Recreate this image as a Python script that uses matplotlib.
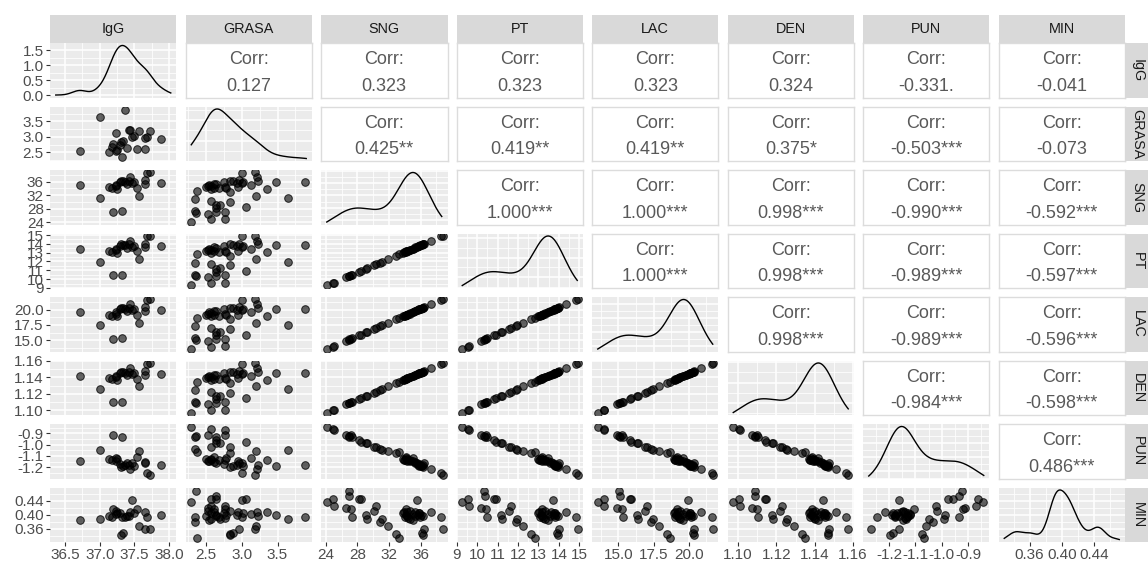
import numpy as np
import matplotlib
matplotlib.use('Agg')
import matplotlib.pyplot as plt
from matplotlib.ticker import MaxNLocator

plt.rcParams['font.family'] = ['Liberation Sans', 'DejaVu Sans']

nan = np.nan

# ---------------------------------------------------------------
# data
# ---------------------------------------------------------------
variables = ['IgG', 'GRASA', 'SNG', 'PT', 'LAC', 'DEN', 'PUN', 'MIN']

IgG = [nan, nan, nan, nan, nan, nan, 37.19, 37.32, nan, nan,
       nan, nan, nan, nan, nan, 37.01, 37.57, nan, nan, 37.25,
       37.18, nan, nan, 37.13, 37.54, nan, nan, 37.23, nan, 37.24,
       36.71, 37.40, 37.65, 37.46, 37.29, 37.89, 37.37, 37.49, nan, 37.31,
       37.34, 37.66, 37.42, 37.44, 37.69, 37.73]
GRASA = [2.30, 2.57, 2.77, 2.54, 2.36, 2.65, 2.77, 2.35, 2.64, 3.06,
         2.65, 2.70, 2.84, 2.58, 2.35, 3.65, 3.20, 2.84, 2.38, 2.58,
         2.68, 2.79, 3.36, 2.50, 2.61, 2.77, 2.95, 2.54, 2.57, 3.13,
         2.55, 2.65, 2.62, 3.00, 2.75, 2.93, 3.88, 3.02, 3.48, 2.84,
         2.88, 2.97, 3.23, 3.22, 3.00, 3.19]
SNG = [24.2, 24.9, 25.0, 26.6, 26.9, 27.0, 27.2, 27.3, 28.2, 28.4,
       29.1, 29.2, 30.1, 30.4, 30.9, 31.1, 31.9, 32.9, 33.3, 33.8,
       34.0, 34.1, 33.9, 34.3, 34.2, 34.4, 34.3, 34.6, 34.6, 35.0,
       35.0, 35.3, 35.3, 35.6, 35.8, 35.7, 35.9, 35.8, 36.0, 36.3,
       36.2, 36.4, 36.3, 37.3, 38.6, 38.8]
PT = [9.28, 9.55, 9.59, 10.21, 10.33, 10.37, 10.44, 10.48, 10.83, 10.91,
      11.18, 11.22, 11.57, 11.68, 11.88, 11.95, 12.26, 12.65, 12.81, 13.00,
      13.08, 13.11, 13.04, 13.19, 13.16, 13.23, 13.19, 13.31, 13.30, 13.47,
      13.46, 13.58, 13.59, 13.70, 13.78, 13.74, 13.82, 13.79, 13.85, 13.97,
      13.93, 14.01, 13.97, 14.36, 14.86, 14.94]
LAC = [13.55, 13.94, 14.00, 14.90, 15.07, 15.12, 15.24, 15.29, 15.80, 15.91,
       16.30, 16.36, 16.87, 17.03, 17.32, 17.43, 17.88, 18.44, 18.66, 18.95,
       19.06, 19.12, 19.00, 19.23, 19.18, 19.29, 19.23, 19.39, 19.40, 19.62,
       19.61, 19.79, 19.79, 19.96, 20.07, 20.01, 20.13, 20.06, 20.18, 20.35,
       20.29, 20.41, 20.34, 20.91, 21.64, 21.75]
DEN = [1.0975, 1.1004, 1.1008, 1.1073, 1.1086, 1.1090, 1.1098, 1.1102, 1.1139, 1.1147,
       1.1176, 1.1180, 1.1217, 1.1229, 1.1250, 1.1258, 1.1291, 1.1332, 1.1348, 1.1369,
       1.1377, 1.1381, 1.1373, 1.1389, 1.1386, 1.1394, 1.1389, 1.1401, 1.1402, 1.1418,
       1.1417, 1.1430, 1.1431, 1.1442, 1.1451, 1.1446, 1.1455, 1.1452, 1.1459, 1.1471,
       1.1468, 1.1476, 1.1471, 1.1512, 1.1565, 1.1574]
PUN = [-0.843, -0.864, -0.872, -0.912, -0.925, -0.935, -0.920, -0.934, -0.958, -0.975,
       -0.986, -0.990, -1.017, -1.020, -1.035, -1.048, -1.060, -1.075, -1.068, -1.128,
       -1.133, -1.120, -1.140, -1.127, -1.105, -1.138, -1.145, -1.148, -1.135, -1.119,
       -1.148, -1.162, -1.156, -1.162, -1.168, -1.176, -1.176, -1.185, -1.190, -1.195,
       -1.186, -1.162, -1.176, -1.215, -1.247, -1.270]
MIN = [0.436, 0.446, 0.425, 0.419, 0.468, 0.454, 0.415, 0.392, 0.446, 0.446,
       0.399, 0.389, 0.412, 0.425, 0.378, 0.387, 0.366, 0.344, 0.332, 0.405,
       0.392, 0.399, 0.409, 0.395, 0.417, 0.390, 0.407, 0.412, 0.387, 0.402,
       0.385, 0.395, 0.409, 0.441, 0.405, 0.399, 0.392, 0.405, 0.398, 0.341,
       0.346, 0.358, 0.395, 0.409, 0.392, 0.360]

# correlation labels, upper triangle, row by row
corr_labels = [
    ['0.127', '0.323', '0.323', '0.323', '0.324', '-0.331.', '-0.041'],
    ['0.425**', '0.419**', '0.419**', '0.375*', '-0.503***', '-0.073'],
    ['1.000***', '1.000***', '0.998***', '-0.990***', '-0.592***'],
    ['1.000***', '0.998***', '-0.989***', '-0.597***'],
    ['0.998***', '-0.989***', '-0.596***'],
    ['-0.984***', '-0.598***'],
    ['0.486***'],
]

# axis breaks / labels
breaks = {
    'IgG': [36.5, 37.0, 37.5, 38.0],
    'GRASA': [2.5, 3.0, 3.5],
    'SNG': [24, 28, 32, 36],
    'PT': [9, 10, 11, 12, 13, 14, 15],
    'LAC': [15.0, 17.5, 20.0],
    'DEN': [1.10, 1.12, 1.14, 1.16],
    'PUN': [-1.2, -1.1, -1.0, -0.9],
    'MIN': [0.36, 0.40, 0.44],
}
fmt = {'IgG': '{:.1f}', 'GRASA': '{:.1f}', 'SNG': '{:.0f}', 'PT': '{:.0f}',
       'LAC': '{:.1f}', 'DEN': '{:.2f}', 'PUN': '{:.1f}', 'MIN': '{:.2f}'}
limits = {
    'IgG': (36.28, 38.11),
    'GRASA': (2.22, 3.98),
    'SNG': (23.4, 39.4),
    'PT': (8.99, 15.18),
    'LAC': (13.12, 22.12),
    'DEN': (1.0945, 1.1605),
    'PUN': (-1.2985, -0.819),
    'MIN': (0.3213, 0.4784),
}

data = {'IgG': IgG, 'GRASA': GRASA, 'SNG': SNG, 'PT': PT,
        'LAC': LAC, 'DEN': DEN, 'PUN': PUN, 'MIN': MIN}
data = {k: np.array(v, dtype=float) for k, v in data.items()}

# ---------------------------------------------------------------
# layout
# ---------------------------------------------------------------
W, H = 1148, 562
LEFT, TOP = 50, 43
PW, PH, GAP = 126.5, 54.5, 9
STRIP = 28

BG = '#EBEBEB'
TICKC = '#4D4D4D'
TICKFS = 11


def rect(x0, y0, w, h):
    return [x0 / W, 1 - (y0 + h) / H, w / W, h / H]


def minors(b, lim):
    step = b[1] - b[0]
    m = [b[0] - step / 2] + [(a + c) / 2 for a, c in zip(b[:-1], b[1:])] + [b[-1] + step / 2]
    return [v for v in m if lim[0] <= v <= lim[1]]


def kde(vals, grid):
    v = vals[~np.isnan(vals)]
    n = len(v)
    sd = v.std(ddof=1)
    q75, q25 = np.percentile(v, [75, 25])
    bw = 0.9 * min(sd, (q75 - q25) / 1.34) * n ** -0.2
    z = (grid[:, None] - v[None, :]) / bw
    return np.exp(-0.5 * z ** 2).sum(1) / (n * bw * np.sqrt(2 * np.pi))


def style_grid(ax, xb, xlim, yb, ylim):
    ax.set_facecolor(BG)
    for s in ax.spines.values():
        s.set_visible(False)
    ax.set_xlim(xlim)
    ax.set_ylim(ylim)
    ax.set_xticks(xb)
    ax.set_xticks(minors(xb, xlim), minor=True)
    ax.set_yticks(yb)
    ax.set_yticks(minors(yb, ylim), minor=True)
    ax.grid(which='major', color='white', lw=1.1)
    ax.grid(which='minor', color='white', lw=0.55)
    ax.set_axisbelow(True)
    ax.tick_params(which='both', length=0, labelbottom=False, labelleft=False)


fig = plt.figure(figsize=(W / 100, H / 100), dpi=100)
n = len(variables)

for i, rv in enumerate(variables):
    for j, cv in enumerate(variables):
        x0 = LEFT + j * (PW + GAP)
        y0 = TOP + i * (PH + GAP)
        ax = fig.add_axes(rect(x0, y0, PW, PH))
        xlim = limits[cv]

        if i < j:
            # correlation text
            ax.set_facecolor('white')
            ax.set_xticks([])
            ax.set_yticks([])
            for s in ax.spines.values():
                s.set_color('#DCDCDC')
                s.set_linewidth(1.0)
            ax.text(0.5, 0.69, 'Corr:', ha='center', va='center',
                    fontsize=13, color='#595959', transform=ax.transAxes)
            ax.text(0.5, 0.21, corr_labels[i][j - i - 1], ha='center', va='center',
                    fontsize=13, color='#595959', transform=ax.transAxes)
        elif i == j:
            lo, hi = xlim
            pad = (hi - lo) * 0.05 / 1.1
            grid = np.linspace(lo + pad, hi - pad, 512)
            dens = kde(data[cv], grid)
            r = dens.max() - dens.min()
            ylim = (dens.min() - 0.05 * r, dens.max() + 0.05 * r)
            if i == 0:
                yb = [0.0, 0.5, 1.0, 1.5]
            else:
                yb = [v for v in MaxNLocator(nbins=5, steps=[1, 2, 2.5, 5, 10]).tick_values(*ylim)
                      if ylim[0] <= v <= ylim[1]]
            style_grid(ax, breaks[cv], xlim, yb, ylim)
            ax.plot(grid, dens, color='black', lw=1.0)
            if i == 0:
                ax.tick_params(which='major', axis='y', length=3, width=0.8,
                               color='#333333', labelleft=True,
                               labelsize=TICKFS, labelcolor=TICKC, pad=1.5)
                ax.set_yticklabels(['{:.1f}'.format(v) for v in yb])
        else:
            ylim = limits[rv]
            style_grid(ax, breaks[cv], xlim, breaks[rv], ylim)
            ax.scatter(data[cv], data[rv], s=30, facecolors=(0, 0, 0, 0.6),
                       edgecolors=(0, 0, 0, 0.8), linewidths=0.7, zorder=3)

        if i == n - 1:
            ax.tick_params(which='major', axis='x', length=3, width=0.8,
                           color='#333333', labelbottom=True,
                           labelsize=TICKFS, labelcolor=TICKC, pad=1.5)
            ax.set_xticklabels([fmt[cv].format(v) for v in breaks[cv]])
        if j == 0 and i > 0:
            ax.tick_params(which='major', axis='y', length=3, width=0.8,
                           color='#333333', labelleft=True,
                           labelsize=TICKFS, labelcolor=TICKC, pad=1.5)
            ax.set_yticklabels([fmt[rv].format(v) for v in breaks[rv]])

# strips
for j, v in enumerate(variables):
    x0 = LEFT + j * (PW + GAP)
    sa = fig.add_axes(rect(x0, TOP - STRIP, PW, STRIP))
    sa.set_facecolor('#D9D9D9')
    sa.set_xticks([])
    sa.set_yticks([])
    for s in sa.spines.values():
        s.set_visible(False)
    sa.text(0.5, 0.5, v, ha='center', va='center', fontsize=10.4,
            color='#1A1A1A', transform=sa.transAxes)

for i, v in enumerate(variables):
    y0 = TOP + i * (PH + GAP)
    x0 = LEFT + n * PW + (n - 1) * GAP
    sa = fig.add_axes(rect(x0, y0, 25, PH))
    sa.set_facecolor('#D9D9D9')
    sa.set_xticks([])
    sa.set_yticks([])
    for s in sa.spines.values():
        s.set_visible(False)
    sa.text(0.5, 0.5, v, ha='center', va='center', fontsize=10.4, rotation=-90,
            color='#1A1A1A', transform=sa.transAxes)

fig.savefig('out.png', dpi=100, facecolor='white')
